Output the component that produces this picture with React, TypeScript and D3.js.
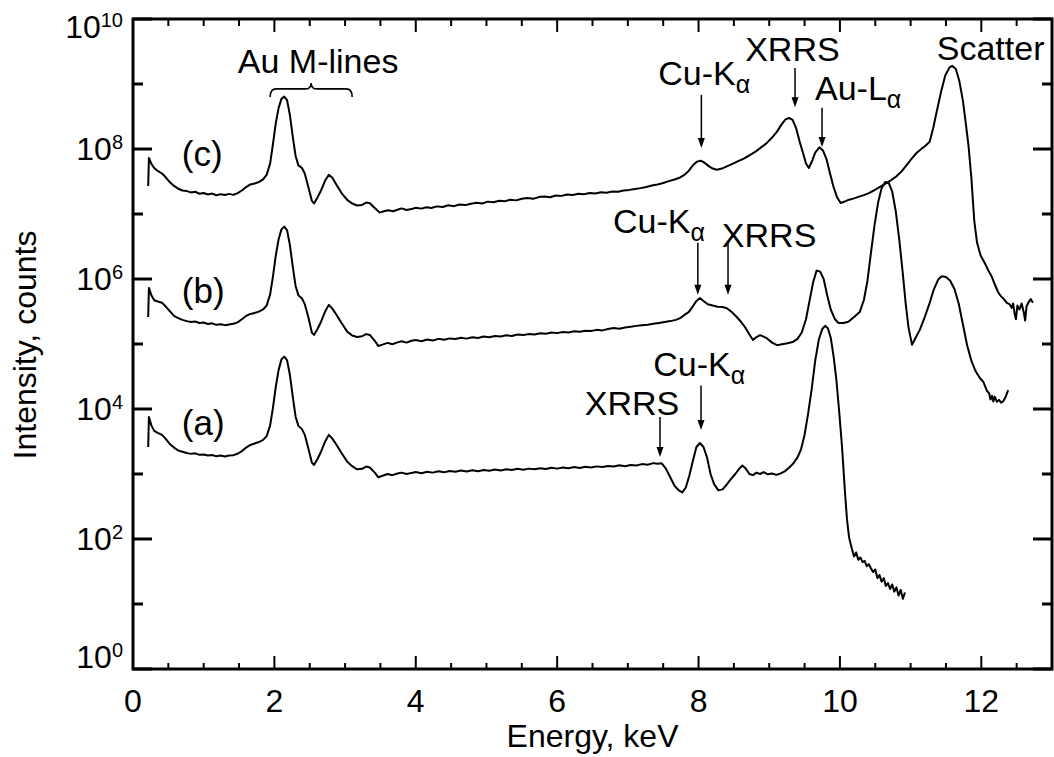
import React from "react";
import * as d3 from "d3";

// X-ray fluorescence spectra: [energy keV, intensity counts]
const spectrumC: [number, number][] = [
  [0.215, 2.7e7], [0.225, 7.3e7], [0.26, 5.9e7], [0.3, 5.1e7], [0.35, 4.6e7], [0.41, 4.2e7],
  [0.46, 3.7e7], [0.52, 3.1e7], [0.58, 2.7e7], [0.64, 2.45e7], [0.7, 2.3e7], [0.76, 2.25e7],
  [0.82, 2.15e7], [0.88, 2.2e7], [0.94, 2.05e7], [1.0, 2.1e7], [1.06, 2.0e7], [1.12, 2.06e7],
  [1.18, 1.94e7], [1.24, 2.02e7], [1.3, 1.96e7], [1.36, 2.04e7], [1.42, 1.97e7], [1.48, 2.1e7],
  [1.54, 2.3e7], [1.6, 2.6e7], [1.66, 2.85e7], [1.72, 2.95e7], [1.78, 3.1e7], [1.84, 3.4e7],
  [1.89, 4.0e7], [1.94, 6.0e7], [1.98, 1.2e8], [2.02, 2.5e8], [2.06, 4.3e8], [2.1, 5.9e8],
  [2.14, 6.4e8], [2.18, 5.6e8], [2.22, 3.3e8], [2.26, 1.55e8], [2.3, 7.8e7], [2.34, 5.6e7],
  [2.39, 5.1e7], [2.43, 4.2e7], [2.48, 2.6e7], [2.53, 1.6e7], [2.56, 1.45e7], [2.61, 1.8e7],
  [2.66, 2.3e7], [2.72, 3.3e7], [2.77, 4.0e7], [2.82, 3.6e7], [2.88, 2.8e7], [2.95, 2.1e7],
  [3.03, 1.65e7], [3.1, 1.45e7], [3.17, 1.35e7], [3.24, 1.38e7], [3.3, 1.5e7], [3.35, 1.46e7],
  [3.42, 1.24e7], [3.49, 1.05e7], [3.55, 1.1e7], [3.61, 1.14e7], [3.68, 1.1e7], [3.74, 1.16e7],
  [3.8, 1.22e7], [3.87, 1.15e7], [3.94, 1.19e7], [4.0, 1.25e7], [4.08, 1.21e7], [4.15, 1.27e7],
  [4.22, 1.24e7], [4.3, 1.31e7], [4.38, 1.28e7], [4.46, 1.36e7], [4.54, 1.32e7], [4.62, 1.4e7],
  [4.7, 1.37e7], [4.78, 1.44e7], [4.86, 1.49e7], [4.94, 1.45e7], [5.02, 1.55e7], [5.1, 1.52e7],
  [5.18, 1.6e7], [5.26, 1.57e7], [5.34, 1.66e7], [5.42, 1.62e7], [5.5, 1.72e7], [5.58, 1.76e7],
  [5.66, 1.71e7], [5.74, 1.82e7], [5.82, 1.86e7], [5.9, 1.81e7], [5.98, 1.93e7], [6.06, 1.9e7],
  [6.14, 2.0e7], [6.22, 1.96e7], [6.3, 2.05e7], [6.38, 2.02e7], [6.46, 2.1e7], [6.54, 2.07e7],
  [6.62, 2.16e7], [6.7, 2.13e7], [6.78, 2.22e7], [6.86, 2.2e7], [6.94, 2.3e7], [7.02, 2.35e7],
  [7.1, 2.42e7], [7.18, 2.5e7], [7.26, 2.6e7], [7.34, 2.75e7], [7.42, 2.85e7], [7.5, 3.0e7],
  [7.58, 3.2e7], [7.66, 3.4e7], [7.74, 3.65e7], [7.8, 4.0e7], [7.86, 4.6e7], [7.92, 5.6e7],
  [7.98, 6.4e7], [8.03, 6.6e7], [8.08, 6.2e7], [8.14, 5.5e7], [8.2, 5.0e7], [8.26, 4.8e7],
  [8.33, 5.0e7], [8.4, 5.4e7], [8.48, 5.9e7], [8.56, 6.5e7], [8.64, 7.1e7], [8.72, 8.0e7],
  [8.8, 9.0e7], [8.88, 1.05e8], [8.96, 1.22e8], [9.04, 1.5e8], [9.11, 1.85e8], [9.17, 2.35e8],
  [9.23, 2.85e8], [9.28, 3.0e8], [9.33, 2.8e8], [9.38, 2.1e8], [9.43, 1.3e8], [9.48, 8.5e7],
  [9.52, 6.0e7], [9.56, 5.1e7], [9.6, 6.3e7], [9.65, 8.8e7], [9.71, 1.06e8], [9.76, 9.5e7],
  [9.81, 7.0e7], [9.86, 4.2e7], [9.91, 2.6e7], [9.96, 1.8e7], [10.01, 1.48e7], [10.07, 1.56e7],
  [10.13, 1.66e7], [10.2, 1.74e7], [10.27, 1.85e7], [10.34, 1.95e7], [10.41, 2.1e7], [10.48, 2.3e7],
  [10.56, 2.6e7], [10.64, 2.9e7], [10.72, 3.3e7], [10.8, 3.8e7], [10.87, 4.5e7], [10.94, 5.6e7],
  [11.01, 7.0e7], [11.08, 8.6e7], [11.15, 1.0e8], [11.21, 1.12e8], [11.27, 1.3e8], [11.32, 2.1e8],
  [11.37, 3.8e8], [11.43, 7.5e8], [11.49, 1.35e9], [11.55, 1.8e9], [11.59, 1.9e9], [11.64, 1.7e9],
  [11.69, 1.1e9], [11.74, 5.5e8], [11.78, 2.5e8], [11.82, 1.1e8], [11.86, 3.5e7], [11.9, 8.0e6],
  [11.94, 3.6e6], [11.99, 2.3e6], [12.05, 1.75e6], [12.1, 1.35e6], [12.15, 1.07e6], [12.2, 7.8e5],
  [12.24, 6.2e5], [12.28, 5.4e5], [12.32, 4.9e5], [12.36, 4.3e5], [12.4, 4.1e5], [12.43, 3.6e5],
  [12.45, 4.2e5], [12.47, 3.0e5], [12.49, 2.4e5], [12.51, 3.9e5], [12.54, 3.4e5], [12.57, 4.2e5],
  [12.6, 3.1e5], [12.62, 2.3e5], [12.64, 3.8e5], [12.67, 4.4e5], [12.7, 4.9e5], [12.73, 4.3e5],
];

const spectrumB: [number, number][] = [
  [0.215, 2.6e5], [0.225, 7.3e5], [0.26, 5.6e5], [0.3, 4.7e5], [0.35, 4.5e5], [0.41, 4.3e5],
  [0.46, 3.8e5], [0.52, 3.2e5], [0.58, 2.7e5], [0.64, 2.5e5], [0.7, 2.35e5], [0.76, 2.25e5],
  [0.82, 2.18e5], [0.88, 2.22e5], [0.94, 2.1e5], [1.0, 2.14e5], [1.06, 2.03e5], [1.12, 2.08e5],
  [1.18, 1.97e5], [1.24, 2.02e5], [1.3, 1.95e5], [1.36, 2.0e5], [1.42, 2.05e5], [1.48, 2.15e5],
  [1.54, 2.4e5], [1.6, 2.7e5], [1.66, 2.9e5], [1.72, 3.0e5], [1.78, 3.15e5], [1.84, 3.4e5],
  [1.89, 3.9e5], [1.94, 5.8e5], [1.98, 1.1e6], [2.02, 2.3e6], [2.06, 4.1e6], [2.1, 5.8e6],
  [2.14, 6.4e6], [2.18, 5.6e6], [2.22, 3.3e6], [2.26, 1.55e6], [2.3, 7.8e5], [2.34, 5.6e5],
  [2.39, 5.0e5], [2.43, 4.1e5], [2.48, 2.6e5], [2.53, 1.5e5], [2.56, 1.38e5], [2.61, 1.7e5],
  [2.66, 2.2e5], [2.72, 3.2e5], [2.77, 4.0e5], [2.82, 3.5e5], [2.88, 2.8e5], [2.95, 2.1e5],
  [3.03, 1.55e5], [3.1, 1.35e5], [3.17, 1.28e5], [3.24, 1.32e5], [3.3, 1.42e5], [3.35, 1.38e5],
  [3.42, 1.12e5], [3.47, 9.3e4], [3.53, 9.8e4], [3.6, 1.04e5], [3.67, 9.9e4], [3.74, 1.06e5],
  [3.8, 1.1e5], [3.87, 1.05e5], [3.94, 1.12e5], [4.0, 1.15e5], [4.08, 1.1e5], [4.16, 1.17e5],
  [4.24, 1.13e5], [4.32, 1.2e5], [4.4, 1.16e5], [4.48, 1.22e5], [4.56, 1.19e5], [4.64, 1.25e5],
  [4.72, 1.21e5], [4.8, 1.27e5], [4.88, 1.24e5], [4.96, 1.3e5], [5.04, 1.27e5], [5.12, 1.33e5],
  [5.2, 1.3e5], [5.28, 1.36e5], [5.36, 1.33e5], [5.44, 1.4e5], [5.52, 1.37e5], [5.6, 1.43e5],
  [5.68, 1.4e5], [5.76, 1.46e5], [5.84, 1.44e5], [5.92, 1.5e5], [6.0, 1.47e5], [6.08, 1.53e5],
  [6.16, 1.5e5], [6.24, 1.57e5], [6.32, 1.54e5], [6.4, 1.6e5], [6.48, 1.58e5], [6.56, 1.65e5],
  [6.64, 1.62e5], [6.72, 1.7e5], [6.8, 1.76e5], [6.88, 1.72e5], [6.96, 1.8e5], [7.04, 1.84e5],
  [7.12, 1.9e5], [7.2, 1.95e5], [7.28, 1.98e5], [7.36, 2.05e5], [7.44, 2.1e5], [7.52, 2.18e5],
  [7.6, 2.25e5], [7.68, 2.35e5], [7.74, 2.5e5], [7.8, 2.8e5], [7.86, 3.1e5], [7.92, 3.8e5],
  [7.97, 4.6e5], [8.02, 5.1e5], [8.07, 4.6e5], [8.13, 4.1e5], [8.2, 3.9e5], [8.27, 3.75e5],
  [8.34, 3.7e5], [8.4, 3.55e5], [8.47, 3.1e5], [8.54, 2.6e5], [8.6, 2.2e5], [8.66, 1.8e5],
  [8.72, 1.4e5], [8.77, 1.15e5], [8.82, 1.28e5], [8.87, 1.37e5], [8.92, 1.3e5], [8.97, 1.22e5],
  [9.04, 1.05e5], [9.11, 9.6e4], [9.18, 9.9e4], [9.26, 1.03e5], [9.33, 1.07e5], [9.4, 1.2e5],
  [9.46, 1.5e5], [9.52, 2.4e5], [9.57, 4.6e5], [9.62, 8.8e5], [9.67, 1.35e6], [9.72, 1.3e6],
  [9.77, 1.0e6], [9.82, 5.6e5], [9.87, 3.4e5], [9.93, 2.4e5], [9.98, 2.1e5], [10.05, 2.1e5],
  [10.12, 2.2e5], [10.2, 2.6e5], [10.28, 3.1e5], [10.34, 4.8e5], [10.39, 9.5e5], [10.44, 2.6e6],
  [10.49, 6.8e6], [10.54, 1.5e7], [10.59, 2.5e7], [10.64, 3.1e7], [10.69, 3.0e7], [10.74, 2.2e7],
  [10.79, 1.1e7], [10.84, 4.0e6], [10.89, 1.2e6], [10.93, 4.2e5], [10.97, 1.8e5], [11.02, 9.7e4],
  [11.07, 1.25e5], [11.13, 1.65e5], [11.2, 2.6e5], [11.27, 4.3e5], [11.33, 7.0e5], [11.39, 9.8e5],
  [11.44, 1.1e6], [11.5, 1.07e6], [11.56, 9.4e5], [11.62, 7.0e5], [11.68, 4.2e5], [11.74, 2.0e5],
  [11.8, 9.5e4], [11.86, 5.5e4], [11.92, 3.8e4], [11.98, 3.0e4], [12.03, 2.6e4], [12.08, 1.9e4],
  [12.11, 1.75e4], [12.13, 1.4e4], [12.15, 1.6e4], [12.17, 1.3e4], [12.19, 1.55e4], [12.22, 1.3e4],
  [12.25, 1.38e4], [12.28, 1.25e4], [12.31, 1.32e4], [12.34, 1.5e4], [12.38, 1.95e4],
];

const spectrumA: [number, number][] = [
  [0.215, 2.6e3], [0.225, 7.5e3], [0.26, 5.6e3], [0.3, 4.6e3], [0.35, 4.3e3], [0.41, 4.0e3],
  [0.46, 3.5e3], [0.52, 2.9e3], [0.58, 2.55e3], [0.64, 2.3e3], [0.7, 2.2e3], [0.76, 2.1e3],
  [0.82, 2.04e3], [0.88, 2.08e3], [0.94, 1.97e3], [1.0, 2.0e3], [1.06, 1.92e3], [1.12, 1.96e3],
  [1.18, 1.87e3], [1.24, 1.92e3], [1.3, 1.86e3], [1.36, 1.93e3], [1.42, 1.95e3], [1.48, 2.05e3],
  [1.54, 2.25e3], [1.6, 2.55e3], [1.66, 2.8e3], [1.72, 2.95e3], [1.78, 3.1e3], [1.84, 3.35e3],
  [1.89, 3.8e3], [1.94, 5.6e3], [1.98, 1.05e4], [2.02, 2.2e4], [2.06, 4.0e4], [2.1, 5.8e4],
  [2.14, 6.4e4], [2.18, 5.6e4], [2.22, 3.3e4], [2.26, 1.55e4], [2.3, 7.6e3], [2.34, 5.5e3],
  [2.39, 4.9e3], [2.43, 4.0e3], [2.48, 2.5e3], [2.53, 1.5e3], [2.56, 1.38e3], [2.61, 1.7e3],
  [2.66, 2.2e3], [2.72, 3.2e3], [2.77, 4.0e3], [2.82, 3.5e3], [2.88, 2.8e3], [2.95, 2.1e3],
  [3.03, 1.55e3], [3.1, 1.32e3], [3.17, 1.18e3], [3.24, 1.2e3], [3.3, 1.3e3], [3.35, 1.26e3],
  [3.42, 1.05e3], [3.47, 8.9e2], [3.53, 9.4e2], [3.6, 1.0e3], [3.67, 9.6e2], [3.74, 1.02e3],
  [3.8, 1.05e3], [3.87, 1.0e3], [3.94, 1.04e3], [4.0, 1.07e3], [4.08, 1.03e3], [4.16, 1.08e3],
  [4.24, 1.05e3], [4.32, 1.1e3], [4.4, 1.06e3], [4.48, 1.11e3], [4.56, 1.08e3], [4.64, 1.13e3],
  [4.72, 1.09e3], [4.8, 1.14e3], [4.88, 1.1e3], [4.96, 1.15e3], [5.04, 1.12e3], [5.12, 1.17e3],
  [5.2, 1.13e3], [5.28, 1.18e3], [5.36, 1.15e3], [5.44, 1.2e3], [5.52, 1.16e3], [5.6, 1.21e3],
  [5.68, 1.18e3], [5.76, 1.23e3], [5.84, 1.19e3], [5.92, 1.25e3], [6.0, 1.21e3], [6.08, 1.26e3],
  [6.16, 1.23e3], [6.24, 1.28e3], [6.32, 1.24e3], [6.4, 1.29e3], [6.48, 1.26e3], [6.56, 1.31e3],
  [6.64, 1.28e3], [6.72, 1.33e3], [6.8, 1.3e3], [6.88, 1.36e3], [6.96, 1.32e3], [7.04, 1.38e3],
  [7.12, 1.35e3], [7.2, 1.42e3], [7.28, 1.39e3], [7.36, 1.47e3], [7.42, 1.44e3], [7.48, 1.46e3],
  [7.54, 1.2e3], [7.6, 8.9e2], [7.66, 6.6e2], [7.72, 5.6e2], [7.77, 5.2e2], [7.82, 6.2e2],
  [7.87, 9.5e2], [7.92, 1.6e3], [7.97, 2.6e3], [8.02, 3.0e3], [8.07, 2.6e3], [8.12, 1.8e3],
  [8.17, 1.0e3], [8.22, 7.0e2], [8.28, 5.6e2], [8.34, 5.8e2], [8.4, 6.9e2], [8.46, 8.4e2],
  [8.52, 1.0e3], [8.58, 1.22e3], [8.62, 1.35e3], [8.67, 1.2e3], [8.72, 1.0e3], [8.77, 9.6e2],
  [8.82, 1.05e3], [8.87, 1.0e3], [8.92, 1.07e3], [8.98, 9.9e2], [9.04, 1.02e3], [9.1, 9.7e2],
  [9.16, 1.02e3], [9.22, 1.1e3], [9.28, 1.25e3], [9.34, 1.45e3], [9.4, 1.8e3], [9.45, 2.4e3],
  [9.5, 4.0e3], [9.55, 8.5e3], [9.6, 2.0e4], [9.65, 5.5e4], [9.7, 1.15e5], [9.75, 1.7e5],
  [9.79, 1.9e5], [9.83, 1.75e5], [9.87, 1.25e5], [9.91, 6.5e4], [9.95, 2.8e4], [9.99, 9.0e3],
  [10.03, 2.6e3], [10.07, 5.5e2], [10.1, 2.0e2], [10.13, 1.05e2], [10.17, 7.0e1], [10.2, 5.4e1],
  [10.23, 6.2e1], [10.26, 4.8e1], [10.29, 5.2e1], [10.32, 4.4e1], [10.35, 4.6e1], [10.38, 3.8e1],
  [10.41, 4.1e1], [10.44, 3.5e1], [10.47, 3.1e1], [10.5, 3.4e1], [10.53, 2.5e1], [10.56, 2.8e1],
  [10.59, 2.2e1], [10.62, 2.5e1], [10.65, 1.9e1], [10.68, 2.1e1], [10.71, 1.7e1], [10.74, 2.0e1],
  [10.77, 1.55e1], [10.8, 1.8e1], [10.83, 1.35e1], [10.86, 1.65e1], [10.89, 1.2e1], [10.92, 1.5e1],
];

const spectra = [spectrumA, spectrumB, spectrumC];

// Axis ticks
const xTickValues = [0, 2, 4, 6, 8, 10, 12];
const xMinorValues = [0.5, 1, 1.5, 2.5, 3, 3.5, 4.5, 5, 5.5, 6.5, 7, 7.5, 8.5, 9, 9.5, 10.5, 11, 11.5, 12.5];
const yTickExponents = [0, 2, 4, 6, 8, 10];
const yMinorExponents = [1, 3, 5, 7, 9];

// Spectrum labels: text, energy, intensity
const seriesLabels: [string, number, number][] = [
  ["(c)", 0.69, 5.5e7],
  ["(b)", 0.69, 4.3e5],
  ["(a)", 0.69, 4.0e3],
];

// Peak annotations: main text, subscript, label energy/intensity, arrow energy, arrow from/to intensity
type Note = { text: string; sub?: string; e: number; v: number; ae?: number; from?: number; to?: number };
const notes: Note[] = [
  { text: "Cu-K", sub: "α", e: 7.43, v: 9.7e8, ae: 8.04, from: 6.8e8, to: 1.04e8 },
  { text: "XRRS", e: 8.66, v: 2.26e9, ae: 9.365, from: 1.76e9, to: 4.4e8 },
  { text: "Au-L", sub: "α", e: 9.648, v: 5.7e8, ae: 9.747, from: 4.3e8, to: 1.07e8 },
  { text: "Scatter", e: 11.37, v: 2.34e9 },
  { text: "Cu-K", sub: "α", e: 6.79, v: 5.1e6, ae: 7.99, from: 3.6e6, to: 5.7e5 },
  { text: "XRRS", e: 8.33, v: 3.1e6, ae: 8.417, from: 3.6e6, to: 5.7e5 },
  { text: "Cu-K", sub: "α", e: 7.36, v: 3.2e4, ae: 8.035, from: 2.3e4, to: 4.75e3 },
  { text: "XRRS", e: 6.39, v: 8.1e3, ae: 7.455, from: 7.5e3, to: 1.83e3 },
];

const bracketLabel = "Au M-lines";
const bracketRange = [1.94, 3.1];
const bracketLevel = 8.4e8;
const bracketTextLevel = 1.48e9;

const FONT = "'Liberation Sans', Arial, Helvetica, sans-serif";

export default function App() {
  const left = 133, right = 1052, top = 19, bottom = 669;
  const x = d3.scaleLinear().domain([0, 13]).range([left, right]);
  const y = d3.scaleLog().domain([1, 1e10]).range([bottom, top]);
  const line = d3
    .line<[number, number]>()
    .x((d) => x(d[0]))
    .y((d) => y(d[1]))
    .curve(d3.curveLinear);

  const yLabelBaseline = (exp: number) => {
    const t = y(Math.pow(10, exp));
    if (exp === 10) return t + 19;
    if (exp === 0) return t - 1;
    return t + 11;
  };

  const bx0 = x(bracketRange[0]);
  const bx1 = x(bracketRange[1]);
  const bm = (bx0 + bx1) / 2;
  const by = y(bracketLevel);
  const bracePath = `M${bx0},${by + 8} Q${bx0},${by} ${bx0 + 6},${by} L${bm - 6},${by} Q${bm},${by} ${bm},${by - 6} Q${bm},${by} ${bm + 6},${by} L${bx1 - 6},${by} Q${bx1},${by} ${bx1},${by + 8}`;

  return (
    <svg
      width={1054}
      height={757}
      style={{ position: "absolute", left: 0, top: 0, background: "#fff" }}
      fontFamily={FONT}
    >
      <rect x={0} y={0} width={1054} height={757} fill="#fff" />

      {/* spectra */}
      {spectra.map((s, i) => (
        <path key={i} d={line(s) || ""} fill="none" stroke="#000" strokeWidth={2} strokeLinejoin="round" />
      ))}

      {/* frame */}
      <rect x={left} y={top} width={right - left} height={bottom - top} fill="none" stroke="#000" strokeWidth={3} />

      {/* x ticks */}
      {xTickValues.map((v) => (
        <g key={"xt" + v}>
          <line x1={x(v)} x2={x(v)} y1={bottom} y2={bottom - 13} stroke="#000" strokeWidth={2} />
          <line x1={x(v)} x2={x(v)} y1={top} y2={top + 13} stroke="#000" strokeWidth={2} />
          <text x={x(v)} y={712} fontSize={32} textAnchor="middle" fill="#000">
            {v}
          </text>
        </g>
      ))}
      {xMinorValues.map((v) => (
        <g key={"xm" + v}>
          <line x1={x(v)} x2={x(v)} y1={bottom} y2={bottom - 6} stroke="#000" strokeWidth={2} />
          <line x1={x(v)} x2={x(v)} y1={top} y2={top + 7} stroke="#000" strokeWidth={2} />
        </g>
      ))}

      {/* y ticks */}
      {yTickExponents.map((e) => {
        const t = y(Math.pow(10, e));
        return (
          <g key={"yt" + e}>
            <line x1={left} x2={left + 19} y1={t} y2={t} stroke="#000" strokeWidth={3} />
            <line x1={right} x2={right - 19} y1={t} y2={t} stroke="#000" strokeWidth={3} />
            <text x={123} y={yLabelBaseline(e)} fontSize={32} textAnchor="end" fill="#000">
              <tspan>10</tspan>
              <tspan fontSize={20} dy={-11}>
                {e}
              </tspan>
            </text>
          </g>
        );
      })}
      {yMinorExponents.map((e) => {
        const t = y(Math.pow(10, e));
        return (
          <g key={"ym" + e}>
            <line x1={left} x2={left + 10} y1={t} y2={t} stroke="#000" strokeWidth={3} />
            <line x1={right} x2={right - 10} y1={t} y2={t} stroke="#000" strokeWidth={3} />
          </g>
        );
      })}

      {/* axis titles */}
      <text x={(left + right) / 2} y={747} fontSize={32} textAnchor="middle" fill="#000">
        Energy, keV
      </text>
      <text transform={`translate(36, 345) rotate(-90)`} fontSize={32} textAnchor="middle" fill="#000">
        Intensity, counts
      </text>

      {/* spectrum labels */}
      {seriesLabels.map(([t, e, v]) => (
        <text key={t} x={x(e)} y={y(v)} fontSize={35} fill="#000">
          {t}
        </text>
      ))}

      {/* Au M-lines bracket */}
      <path d={bracePath} fill="none" stroke="#000" strokeWidth={1.6} />
      <text x={bm + 7} y={y(bracketTextLevel)} fontSize={34} textAnchor="middle" fill="#000">
        {bracketLabel}
      </text>

      {/* peak annotations */}
      {notes.map((n, i) => (
        <g key={"n" + i}>
          <text x={x(n.e)} y={y(n.v)} fontSize={34} fill="#000">
            <tspan>{n.text}</tspan>
            {n.sub && (
              <tspan fontSize={25} dy={8}>
                {n.sub}
              </tspan>
            )}
          </text>
          {n.ae !== undefined && (
            <g>
              <line
                x1={x(n.ae)}
                x2={x(n.ae)}
                y1={y(n.from!)}
                y2={y(n.to!) - 7}
                stroke="#000"
                strokeWidth={1.5}
              />
              <path
                d={`M${x(n.ae)},${y(n.to!)} L${x(n.ae) - 3.5},${y(n.to!) - 10} L${x(n.ae) + 3.5},${y(n.to!) - 10} Z`}
                fill="#000"
              />
            </g>
          )}
        </g>
      ))}
    </svg>
  );
}
